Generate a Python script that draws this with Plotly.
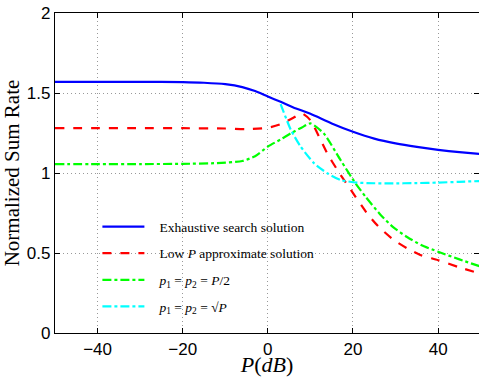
import plotly.graph_objects as go

# Exhaustive search solution
p_exh = [-50, -40, -30, -20, -15, -10, -6, -3, 0, 3, 6, 10, 15, 20, 25, 30, 35, 40, 45, 50]
r_exh = [1.57, 1.57, 1.57, 1.568, 1.564, 1.555, 1.537, 1.512, 1.478, 1.445, 1.41, 1.37, 1.31, 1.258, 1.215, 1.185, 1.163, 1.145, 1.13, 1.118]

# Low P approximate solution
p_low = [-50, -40, -30, -20, -10, -5, 0, 3, 6, 8, 10, 12.4, 14, 16.3, 19.5, 23.3, 26, 29.6, 33, 35.8, 40, 45, 50]
r_low = [1.28, 1.28, 1.28, 1.28, 1.278, 1.274, 1.283, 1.305, 1.345, 1.373, 1.33, 1.206, 1.12, 1.02, 0.894, 0.748, 0.665, 0.581, 0.525, 0.488, 0.455, 0.41, 0.37]

# p1 = p2 = P/2
p_half = [-50, -40, -30, -20, -12, -6, -3, 0, 3, 5.4, 8, 10, 13.1, 17.1, 20.6, 23, 26.5, 29.5, 32.7, 36, 40, 45, 50]
r_half = [1.056, 1.056, 1.056, 1.057, 1.062, 1.075, 1.105, 1.165, 1.21, 1.248, 1.285, 1.31, 1.248, 1.08, 0.935, 0.85, 0.738, 0.66, 0.60, 0.55, 0.508, 0.46, 0.415]

# p1 = p2 = sqrt(P)
p_sqrt = [3, 5.4, 7.7, 10.9, 14, 17.1, 21, 25, 28.8, 35, 40, 45, 50]
r_sqrt = [1.43, 1.27, 1.165, 1.06, 0.998, 0.956, 0.94, 0.936, 0.935, 0.937, 0.94, 0.945, 0.95]

x_ticks = [-40, -20, 0, 20, 40]
y_ticks = [0, 0.5, 1, 1.5, 2]

pad = "&nbsp;&nbsp;&nbsp;"
names = [
    pad + "Exhaustive search solution",
    pad + "Low <i>P</i> approximate solution",
    pad + "<i>p</i><sub>1</sub> = <i>p</i><sub>2</sub> = <i>P</i>/2",
    pad + "<i>p</i><sub>1</sub> = <i>p</i><sub>2</sub> = √<i>P</i>",
]

fig = go.Figure()
series = [
    (p_exh, r_exh, "#0000ff", "solid"),
    (p_low, r_low, "#ff0000", "dash"),
    (p_half, r_half, "#00ff00", "dashdot"),
    (p_sqrt, r_sqrt, "#00ffff", "dashdot"),
]
for i, (xs, ys, c, d) in enumerate(series):
    fig.add_trace(go.Scatter(
        x=xs, y=ys, mode="lines", name=names[i], legendgroup=str(i),
        line=dict(color=c, width=2.2, dash=d, shape="spline", smoothing=0.6),
    ))

fig.update_layout(
    width=479, height=377,
    margin=dict(l=55, r=0, t=13, b=44),
    paper_bgcolor="white", plot_bgcolor="white",
    font=dict(family="Liberation Sans, Arial, sans-serif", size=17, color="black"),
    legend=dict(
        x=0.1, y=0.38, xanchor="left", yanchor="top",
        bgcolor="rgba(0,0,0,0)", borderwidth=0,
        font=dict(family="Liberation Serif, Times New Roman, serif", size=13.5, color="black"),
        itemwidth=42, tracegroupgap=6,
    ),
    showlegend=True,
)
fig.update_xaxes(
    range=[-50, 49.6], tickvals=x_ticks, ticktext=["−40", "−20", "0", "20", "40"],
    showline=True, linecolor="black", linewidth=1.2, mirror="ticks",
    ticks="inside", ticklen=5, tickcolor="black",
    showgrid=True, gridcolor="#999999", griddash="1px,3px", gridwidth=1,
    zeroline=False,
    title=dict(text="<i>P</i>(<i>dB</i>)", font=dict(family="Liberation Serif, serif", size=22), standoff=1),
)
fig.update_yaxes(
    range=[0, 2], tickvals=y_ticks, ticktext=["0", "0.5", "1", "1.5", "2"],
    showline=True, linecolor="black", linewidth=1.2, mirror="ticks",
    ticks="inside", ticklen=5, tickcolor="black",
    showgrid=True, gridcolor="#999999", griddash="1px,3px", gridwidth=1,
    zeroline=False,
    title=dict(text="Normalized Sum Rate", font=dict(family="Liberation Serif, serif", size=21), standoff=2),
)

fig.write_html("out.html")
